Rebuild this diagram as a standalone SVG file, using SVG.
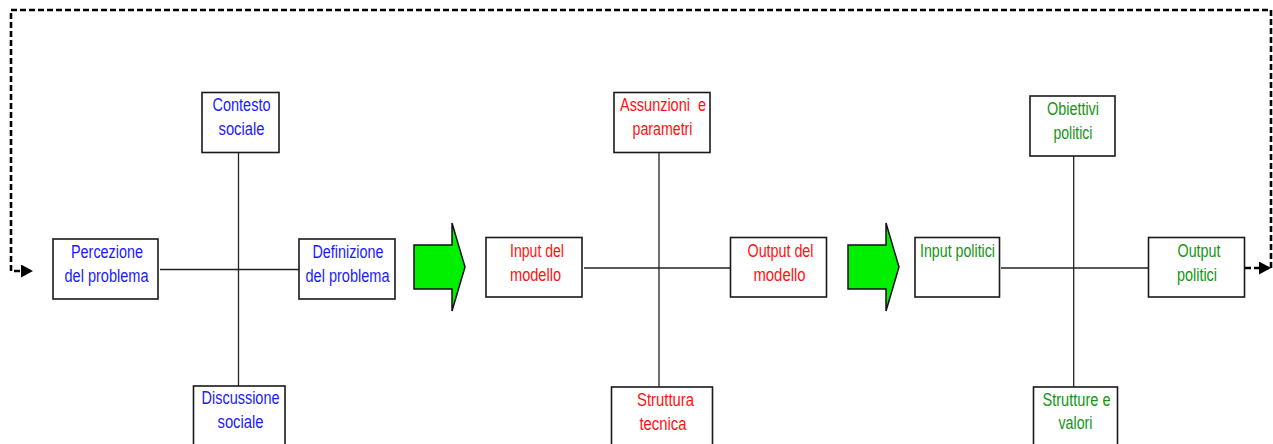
<svg xmlns="http://www.w3.org/2000/svg" width="1273" height="444" viewBox="0 0 1273 444">
<style>
.box{fill:#fff;stroke:#1a1a1a;stroke-width:1.6}
.ln{stroke:#222;stroke-width:1.3;fill:none}
.dash{stroke:#000;stroke-width:2.6;fill:none;stroke-dasharray:6 3}
.big{fill:#00f000;stroke:#111;stroke-width:1.5}
text{font-family:"Liberation Sans",Arial,sans-serif;font-size:17.5px;white-space:pre}
.b{fill:#1a1aff}.r{fill:#ff1010}.g{fill:#129612}
</style>
<defs>
<marker id="ah" markerWidth="12" markerHeight="13" refX="11" refY="6.5" orient="auto" markerUnits="userSpaceOnUse">
<path d="M0,0 L12,6.5 L0,13 Z" fill="#000"/>
</marker>
</defs>
<g id="connectors">
<path class="ln" d="M238.5,153 V386 M160,269.5 H299"/>
<path class="ln" d="M659,153 V387 M584,268 H730"/>
<path class="ln" d="M1073.7,156 V387 M1001,268 H1148"/>
<path class="dash" d="M1245,268 H1270" marker-end="url(#ah)"/>
<path class="dash" d="M1271,268 V10 H11 V271 H32" marker-end="url(#ah)"/>
<polygon class="big" points="414,245 452,245 452,223 465,267 452,311 452,289 414,289"/>
<polygon class="big" points="848,245 886,245 886,223 899,267 886,311 886,289 848,289"/>
</g>
<g id="contesto"><rect class="box" x="202" y="92.5" width="77" height="60"/>
<text class="b" x="212.5" y="111" textLength="58" lengthAdjust="spacingAndGlyphs">Contesto</text>
<text class="b" x="218.5" y="135" textLength="46" lengthAdjust="spacingAndGlyphs">sociale</text></g>
<g id="percezione"><rect class="box" x="53" y="239" width="105" height="60"/>
<text class="b" x="71" y="258" textLength="72" lengthAdjust="spacingAndGlyphs">Percezione</text>
<text class="b" x="64.5" y="282" textLength="84" lengthAdjust="spacingAndGlyphs">del problema</text></g>
<g id="definizione"><rect class="box" x="299" y="239" width="96" height="60"/>
<text class="b" x="312.5" y="258" textLength="71" lengthAdjust="spacingAndGlyphs">Definizione</text>
<text class="b" x="305.5" y="282" textLength="84" lengthAdjust="spacingAndGlyphs">del problema</text></g>
<g id="discussione"><rect class="box" x="193.5" y="386" width="91.5" height="64"/>
<text class="b" x="201.5" y="404" textLength="78" lengthAdjust="spacingAndGlyphs">Discussione</text>
<text class="b" x="217.5" y="428" textLength="46" lengthAdjust="spacingAndGlyphs">sociale</text></g>
<g id="assunzioni"><rect class="box" x="614" y="92.5" width="96" height="60"/>
<text class="r" x="620" y="111" textLength="86" lengthAdjust="spacingAndGlyphs" xml:space="preserve">Assunzioni  e</text>
<text class="r" x="632.5" y="135" textLength="60" lengthAdjust="spacingAndGlyphs">parametri</text></g>
<g id="input-modello"><rect class="box" x="486" y="237.5" width="96" height="59.5"/>
<text class="r" x="510" y="256.5" textLength="54" lengthAdjust="spacingAndGlyphs">Input del</text>
<text class="r" x="510" y="280.5" textLength="51" lengthAdjust="spacingAndGlyphs">modello</text></g>
<g id="output-modello"><rect class="box" x="730.5" y="237.5" width="96" height="59.5"/>
<text class="r" x="747.5" y="256.5" textLength="66" lengthAdjust="spacingAndGlyphs">Output del</text>
<text class="r" x="753.5" y="280.5" textLength="52" lengthAdjust="spacingAndGlyphs">modello</text></g>
<g id="struttura"><rect class="box" x="611.5" y="387" width="101" height="64"/>
<text class="r" x="637" y="405.5" textLength="57" lengthAdjust="spacingAndGlyphs">Struttura</text>
<text class="r" x="639.5" y="429.5" textLength="47" lengthAdjust="spacingAndGlyphs">tecnica</text></g>
<g id="obiettivi"><rect class="box" x="1030" y="96" width="85" height="60"/>
<text class="g" x="1047" y="115" textLength="52" lengthAdjust="spacingAndGlyphs">Obiettivi</text>
<text class="g" x="1053.5" y="139" textLength="39" lengthAdjust="spacingAndGlyphs">politici</text></g>
<g id="input-politici"><rect class="box" x="915" y="237.5" width="84.5" height="59.5"/>
<text class="g" x="920" y="256.5" textLength="75" lengthAdjust="spacingAndGlyphs">Input politici</text></g>
<g id="output-politici"><rect class="box" x="1148.5" y="237.5" width="96" height="59.5"/>
<text class="g" x="1177.5" y="256.5" textLength="43" lengthAdjust="spacingAndGlyphs">Output</text>
<text class="g" x="1177" y="280.5" textLength="40" lengthAdjust="spacingAndGlyphs">politici</text></g>
<g id="strutture"><rect class="box" x="1033.5" y="387" width="84" height="64"/>
<text class="g" x="1042.5" y="405.5" textLength="68" lengthAdjust="spacingAndGlyphs">Strutture e</text>
<text class="g" x="1058.5" y="429" textLength="34" lengthAdjust="spacingAndGlyphs">valori</text></g>
</svg>
